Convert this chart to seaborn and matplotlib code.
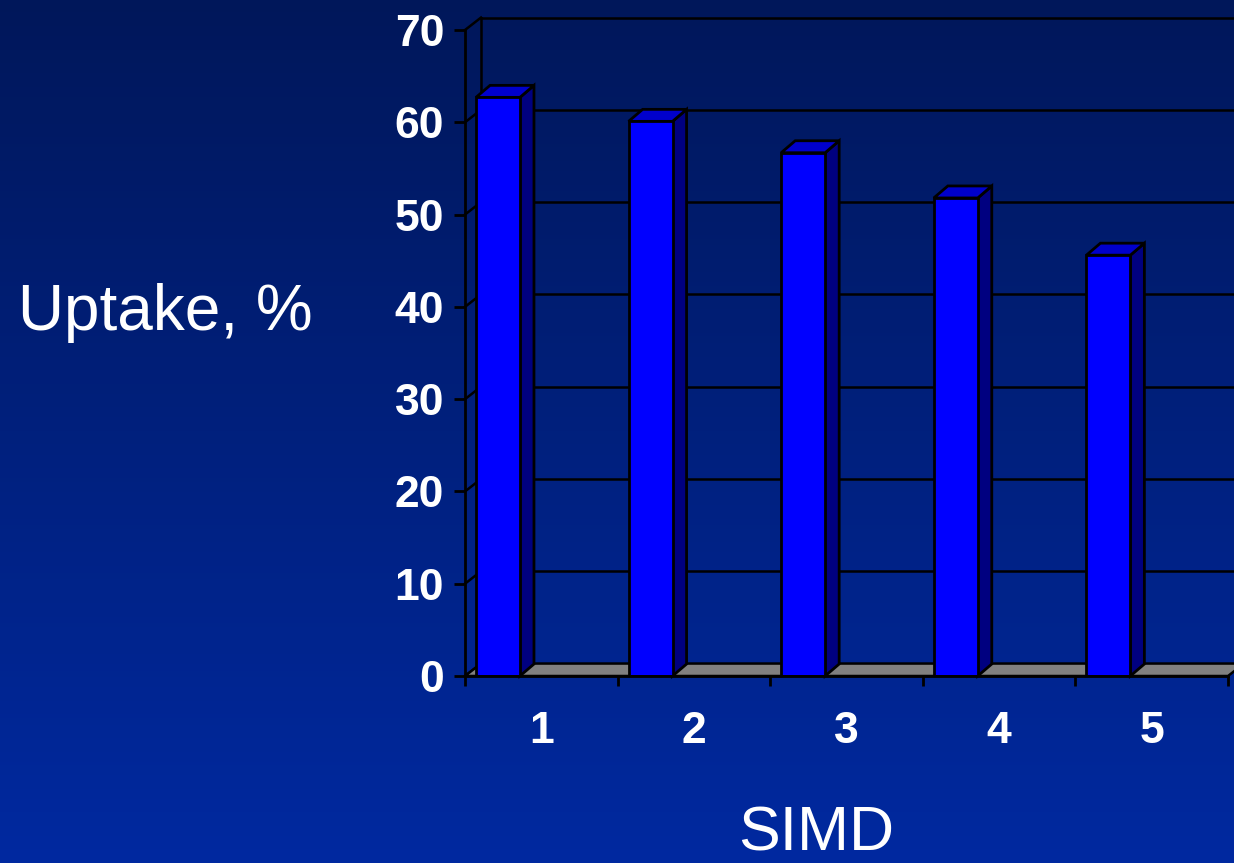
import numpy as np
import pandas as pd
import matplotlib
matplotlib.use("Agg")
import matplotlib.pyplot as plt
import seaborn as sns
from matplotlib.colors import LinearSegmentedColormap

# Data
simd = ["1", "2", "3", "4", "5"]
uptake = [62.7, 60.1, 56.7, 51.8, 45.6]
y_ticks = [0, 10, 20, 30, 40, 50, 60, 70]

plt.rcParams["font.family"] = ["Liberation Sans", "DejaVu Sans"]

W, H = 1234, 863
fig = plt.figure(figsize=(W / 100, H / 100), dpi=100)

# gradient background
bg = fig.add_axes([0, 0, 1, 1], zorder=-10)
grad = np.linspace(0, 1, 256).reshape(-1, 1)
cmap = LinearSegmentedColormap.from_list("bg", ["#00175A", "#0029A0"])
bg.imshow(grad, aspect="auto", cmap=cmap, extent=[0, 1, 0, 1], origin="upper")
bg.axis("off")

ax = fig.add_axes([465 / W, 1 - 676 / H, (1228 - 465) / W, (676 - 30) / H])
ax.patch.set_alpha(0)

df = pd.DataFrame({"SIMD": simd, "Uptake": uptake})
sns.barplot(data=df, x="SIMD", y="Uptake", color="#0000FF", saturation=1,
            width=0.288, edgecolor="black", linewidth=2, ax=ax, zorder=4)

x0, x1 = -0.216, 4.784
ax.set_xlim(x0, x1)
ax.set_ylim(0, 70)

# depth offsets (data units)
dxw, dyw = 0.105, 1.35   # walls
dxb, dyb = 0.092, 1.30   # bars

# back wall grid + left wall diagonals
for v in y_ticks:
    ax.plot([x0 + dxw, x1 + dxw + 0.2], [v + dyw, v + dyw], color="black", lw=1.8,
            clip_on=False, zorder=1)
    ax.plot([x0, x0 + dxw], [v, v + dyw], color="black", lw=1.8, clip_on=False, zorder=1)
ax.plot([x0 + dxw, x0 + dxw], [dyw, 70 + dyw], color="black", lw=1.8, clip_on=False, zorder=1)

# floor
ax.fill([x0, x1, x1 + dxw, x0 + dxw], [0, 0, dyw, dyw], facecolor="#808080",
        edgecolor="black", lw=1.8, clip_on=False, zorder=2)

# 3D side and top of each bar
for p in ax.patches[:len(uptake)]:
    x, w, h = p.get_x(), p.get_width(), p.get_height()
    ax.fill([x + w, x + w + dxb, x + w + dxb, x + w], [0, dyb, h + dyb, h],
            facecolor="#000080", edgecolor="black", lw=2, zorder=3.5, clip_on=False)
    ax.fill([x, x + w, x + w + dxb, x + dxb], [h, h, h + dyb, h + dyb],
            facecolor="#0000CC", edgecolor="black", lw=2, zorder=3.5, clip_on=False)

# axes styling
for s in ["top", "right"]:
    ax.spines[s].set_visible(False)
for s in ["left", "bottom"]:
    ax.spines[s].set_color("black")
    ax.spines[s].set_linewidth(2)
    ax.spines[s].set_zorder(6)

ax.set_yticks(y_ticks)
ax.set_yticklabels([str(v) for v in y_ticks], fontweight="bold")
ax.tick_params(axis="y", length=8, width=2, color="black", labelcolor="white",
               labelsize=32, pad=7)

ax.set_xticks(np.arange(len(simd)) + 0.284)
ax.set_xticklabels(simd, fontweight="bold")
ax.set_xticks(np.arange(len(simd) + 1) + x0, minor=True)
ax.tick_params(axis="x", which="major", length=0, labelcolor="white", labelsize=32, pad=25)
ax.tick_params(axis="x", which="minor", length=7, width=2, color="black")
ax.set_xlabel("")
ax.set_ylabel("")

fig.text(18 / W, 1 - 330 / H, "Uptake, %", color="white", fontsize=46,
         ha="left", va="baseline")
fig.text(816 / W, 1 - 850 / H, "SIMD", color="white", fontsize=45,
         ha="center", va="baseline")

fig.savefig("out.png", dpi=100)
